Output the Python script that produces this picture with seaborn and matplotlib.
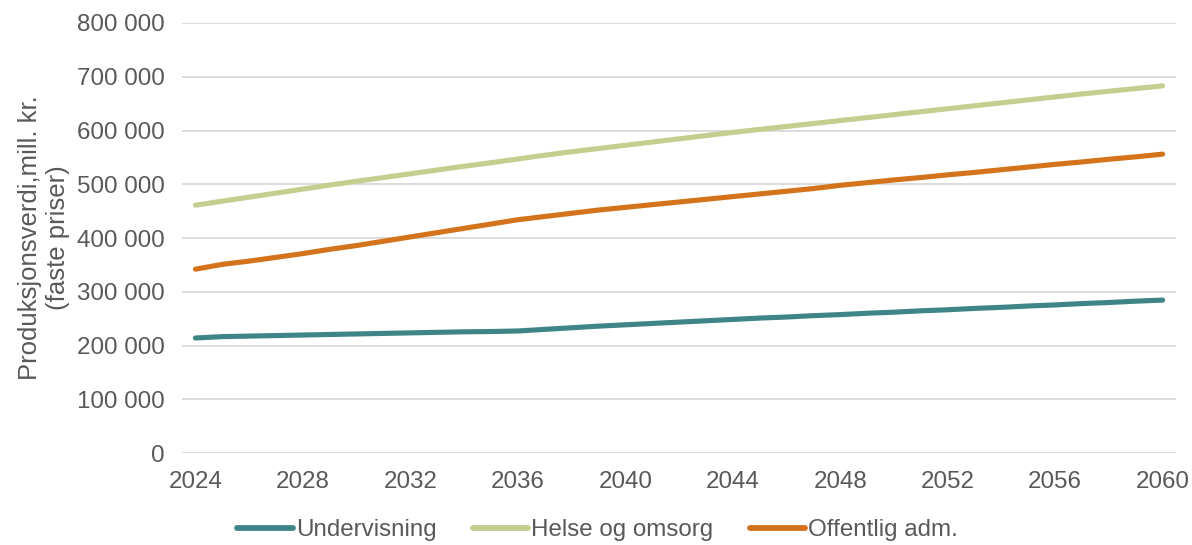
import numpy as np
import pandas as pd
import matplotlib
matplotlib.use("Agg")
import matplotlib.pyplot as plt
import seaborn as sns
from matplotlib.ticker import FuncFormatter

years = list(range(2024, 2061))

undervisning = [214, 216.5, 217.5, 218.5, 219.5, 220.5, 221.5, 222.5, 223.5, 224.5,
                225.5, 226, 227, 230, 233, 236, 238.5, 241, 243.5, 246,
                248.5, 251, 253, 255.5, 257.5, 260, 262, 264.5, 266.5, 269,
                271, 273.5, 275.5, 278, 280, 282.5, 284.5]
helse = [461, 468.5, 476, 483.5, 491, 498.5, 505.5, 512.5, 519.5, 526.5,
         533.5, 540, 547, 554, 560.5, 566.5, 572.5, 578.5, 584.5, 590.5,
         596.5, 602, 607.5, 613, 618.5, 624, 629.5, 635, 640.5, 646,
         651.5, 657, 662.5, 668, 673, 678, 683]
offentlig = [342, 351, 357, 364, 371, 379, 386, 394, 402, 410,
             418, 426, 434, 440, 446, 452, 457, 462, 467, 472,
             477, 482, 487, 492, 498, 503, 508, 512.5, 517.5, 522,
             527, 532, 537, 541.5, 546.5, 551, 556]

series_names = ["Undervisning", "Helse og omsorg", "Offentlig adm."]
colors = ["#3f8588", "#c5cd8f", "#d5731d"]
tick_years = list(range(2024, 2061, 4))
y_ticks = list(range(0, 800001, 100000))

df = pd.DataFrame({
    "År": years * 3,
    "Verdi": [v * 1000 for v in undervisning + helse + offentlig],
    "Serie": [series_names[0]] * len(years) + [series_names[1]] * len(years) + [series_names[2]] * len(years),
})

sns.set_theme(style="white")
plt.rcParams["font.family"] = ["Liberation Sans", "DejaVu Sans"]
text_color = "#595959"
fs = 17.4

fig = plt.figure(figsize=(11.92, 5.45), dpi=100)
ax = fig.add_axes([0.1527, 0.1688, 0.8339, 0.789])

sns.lineplot(data=df, x="År", y="Verdi", hue="Serie", palette=dict(zip(series_names, colors)),
             linewidth=3.7, ax=ax, legend=True)
for line in ax.get_lines():
    line.set_solid_capstyle("round")
    line.set_solid_joinstyle("round")

ax.set_xlim(2023.5, 2060.5)
ax.set_ylim(0, 800000)
ax.set_yticks(y_ticks)
ax.yaxis.set_major_formatter(FuncFormatter(lambda v, p: f"{int(v):,}".replace(",", " ")))
ax.set_xticks(tick_years)
ax.set_xticklabels([str(y) for y in tick_years])

ax.grid(axis="y", color="#d9d9d9", linewidth=1.3)
ax.set_axisbelow(True)
for s in ax.spines.values():
    s.set_visible(False)
ax.tick_params(axis="both", length=0, labelsize=fs, labelcolor=text_color)
ax.tick_params(axis="y", pad=12.5)
ax.tick_params(axis="x", pad=13)

ax.set_xlabel("")
ax.set_ylabel("Produksjonsverdi,mill. kr.\n(faste priser)", fontsize=18.5, color=text_color,
              linespacing=1.2)
ax.yaxis.set_label_coords(-0.1127, 0.5)

handles, labels = ax.get_legend_handles_labels()
for h in handles:
    h.set_solid_capstyle("round")
    h.set_linewidth(4.2)
ax.legend(handles, labels, loc="center", bbox_to_anchor=(0.418, -0.179), ncol=3, frameon=False,
          fontsize=fs, handlelength=2.3, handletextpad=0.12, columnspacing=1.5,
          labelcolor=text_color)

fig.savefig("out.png", dpi=100)
